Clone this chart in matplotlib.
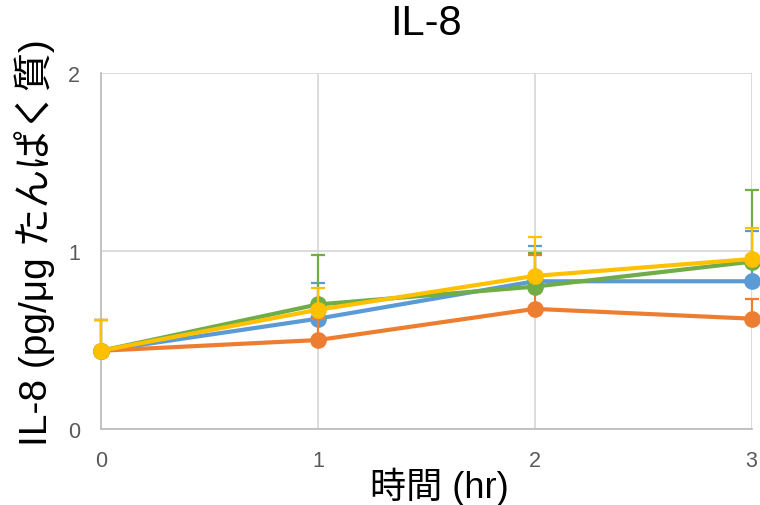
import matplotlib
matplotlib.use("Agg")
import matplotlib.pyplot as plt

# data
hours = [0, 1, 2, 3]
blue = [0.44, 0.62, 0.83, 0.83]
blue_err = [0.17, 0.20, 0.20, 0.28]
orange = [0.44, 0.50, 0.675, 0.62]
orange_err = [0.17, 0.12, 0.30, 0.11]
green = [0.44, 0.70, 0.80, 0.94]
green_err = [0.17, 0.28, 0.19, 0.40]
yellow = [0.44, 0.67, 0.86, 0.955]
yellow_err = [0.17, 0.12, 0.22, 0.175]

plt.rcParams['font.family'] = ['Liberation Sans', 'Noto Sans CJK JP']

fig = plt.figure(figsize=(7.6, 5.06), dpi=100)
ax = fig.add_axes([0.133, 0.150, 0.856, 0.704])

series = [
    (blue, blue_err, '#5B9BD5'),
    (orange, orange_err, '#ED7D31'),
    (green, green_err, '#70AD47'),
    (yellow, yellow_err, '#FFC000'),
]
z = 3
for vals, err, col in series:
    lower = [0] * len(err)
    eb = ax.errorbar(hours, vals, yerr=[lower, err], color=col, lw=3,
                     marker='o', ms=11, capsize=5, elinewidth=1.6,
                     capthick=1.6, zorder=z)
    arts = [eb.lines[0]] + list(eb.lines[1]) + list(eb.lines[2])
    for art in arts:
        art.set_clip_on(False)
    z += 1

ax.set_xlim(0, 3)
ax.set_ylim(0, 2)
ax.set_xticks(hours)
ax.set_yticks([0, 1, 2])
ax.grid(True, color='#D9D9D9', lw=1.3)
ax.set_axisbelow(True)
for s in ['top', 'right']:
    ax.spines[s].set_visible(False)
for s in ['left', 'bottom']:
    ax.spines[s].set_color('#BFBFBF')
    ax.spines[s].set_linewidth(1.3)
ax.tick_params(length=0, labelsize=15.5, colors='#595959')
ax.tick_params(axis='x', pad=15)
ax.tick_params(axis='y', pad=15)

ax.set_title('IL-8', fontsize=30, pad=28)
ax.set_xlabel('時間 (hr)', fontsize=26, va='center')
ax.xaxis.set_label_coords(0.52, -0.16)
ax.set_ylabel('IL-8 (pg/μg たんぱく質)', fontsize=28, va='center')
ax.yaxis.set_label_coords(-0.102, 0.525)

fig.savefig('out.png', dpi=100)
